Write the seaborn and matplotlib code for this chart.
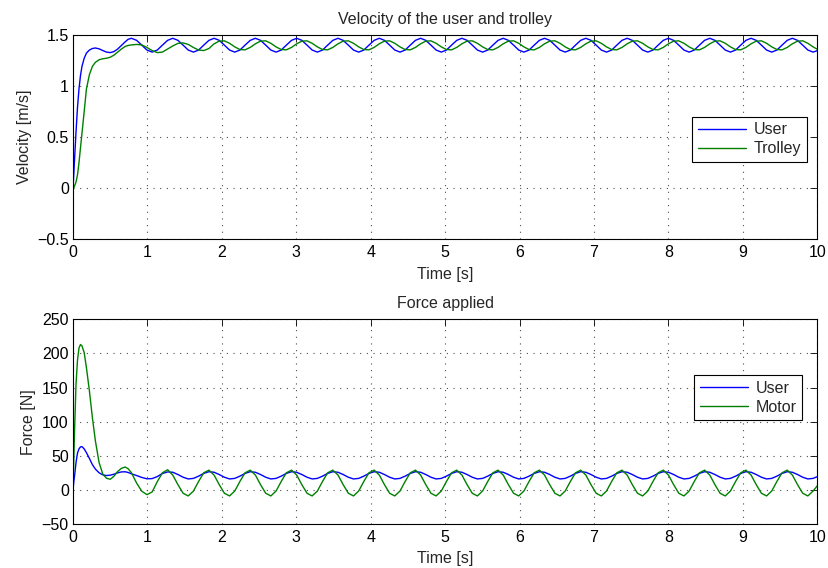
import matplotlib
matplotlib.use("Agg")
import matplotlib.pyplot as plt
import seaborn as sns

# sample times [s]: start-up part, then 8 samples per oscillation (period ~0.555 s)
time_start = [0, 0.01, 0.02, 0.04, 0.06, 0.08, 0.10, 0.12, 0.15, 0.18, 0.22,
              0.26, 0.30, 0.35, 0.40, 0.45, 0.50, 0.55, 0.60, 0.65, 0.70, 0.74]
time_osc = [
    0.785, 0.854, 0.924, 0.993, 1.063, 1.132, 1.201, 1.271,
    1.340, 1.409, 1.479, 1.548, 1.618, 1.687, 1.756, 1.826,
    1.895, 1.964, 2.034, 2.103, 2.173, 2.242, 2.311, 2.381,
    2.450, 2.519, 2.589, 2.658, 2.728, 2.797, 2.866, 2.936,
    3.005, 3.074, 3.144, 3.213, 3.283, 3.352, 3.421, 3.491,
    3.560, 3.629, 3.699, 3.768, 3.838, 3.907, 3.976, 4.046,
    4.115, 4.184, 4.254, 4.323, 4.393, 4.462, 4.531, 4.601,
    4.670, 4.739, 4.809, 4.878, 4.948, 5.017, 5.086, 5.156,
    5.225, 5.294, 5.364, 5.433, 5.503, 5.572, 5.641, 5.711,
    5.780, 5.849, 5.919, 5.988, 6.058, 6.127, 6.196, 6.266,
    6.335, 6.404, 6.474, 6.543, 6.613, 6.682, 6.751, 6.821,
    6.890, 6.959, 7.029, 7.098, 7.168, 7.237, 7.306, 7.376,
    7.445, 7.514, 7.584, 7.653, 7.723, 7.792, 7.861, 7.931,
    8.000, 8.069, 8.139, 8.208, 8.278, 8.347, 8.416, 8.486,
    8.555, 8.624, 8.694, 8.763, 8.833, 8.902, 8.971, 9.041,
    9.110, 9.179, 9.249, 9.318, 9.388, 9.457, 9.526, 9.596,
    9.665, 9.734, 9.804, 9.873, 9.943, 10.0,
]

# velocity [m/s]
vel_user_start = [0, 0.14, 0.28, 0.55, 0.79, 0.97, 1.10, 1.19, 1.27, 1.32, 1.35,
                  1.365, 1.370, 1.362, 1.345, 1.330, 1.325, 1.335, 1.36, 1.395, 1.43, 1.455]
vel_user_osc = [
    1.465, 1.445, 1.398, 1.350, 1.330, 1.350, 1.398, 1.445,
    1.465, 1.445, 1.398, 1.350, 1.330, 1.350, 1.398, 1.445,
    1.465, 1.445, 1.398, 1.350, 1.330, 1.350, 1.398, 1.445,
    1.465, 1.445, 1.398, 1.350, 1.330, 1.350, 1.398, 1.445,
    1.465, 1.445, 1.398, 1.350, 1.330, 1.350, 1.398, 1.445,
    1.465, 1.445, 1.398, 1.350, 1.330, 1.350, 1.398, 1.445,
    1.465, 1.445, 1.398, 1.350, 1.330, 1.350, 1.398, 1.445,
    1.465, 1.445, 1.398, 1.350, 1.330, 1.350, 1.398, 1.445,
    1.465, 1.445, 1.398, 1.350, 1.330, 1.350, 1.398, 1.445,
    1.465, 1.445, 1.398, 1.350, 1.330, 1.350, 1.398, 1.445,
    1.465, 1.445, 1.398, 1.350, 1.330, 1.350, 1.398, 1.445,
    1.465, 1.445, 1.398, 1.350, 1.330, 1.350, 1.398, 1.445,
    1.465, 1.445, 1.398, 1.350, 1.330, 1.350, 1.398, 1.445,
    1.465, 1.445, 1.398, 1.350, 1.330, 1.350, 1.398, 1.445,
    1.465, 1.445, 1.398, 1.350, 1.330, 1.350, 1.398, 1.445,
    1.465, 1.445, 1.398, 1.350, 1.330, 1.350, 1.398, 1.445,
    1.465, 1.445, 1.398, 1.350, 1.330, 1.344,
]
vel_trolley_start = [0, 0.005, 0.02, 0.06, 0.13, 0.25, 0.39, 0.53, 0.75, 0.97, 1.11,
                     1.19, 1.23, 1.255, 1.265, 1.27, 1.28, 1.30, 1.33, 1.36, 1.385, 1.395]
vel_trolley_osc = [
    1.400, 1.405, 1.400, 1.375, 1.345, 1.325, 1.330, 1.360,
    1.390, 1.415, 1.420, 1.405, 1.375, 1.350, 1.345, 1.365,
    1.411, 1.437, 1.440, 1.416, 1.381, 1.355, 1.352, 1.376,
    1.411, 1.437, 1.440, 1.416, 1.381, 1.355, 1.352, 1.376,
    1.411, 1.437, 1.440, 1.416, 1.381, 1.355, 1.352, 1.376,
    1.411, 1.437, 1.440, 1.416, 1.381, 1.355, 1.352, 1.376,
    1.411, 1.437, 1.440, 1.416, 1.381, 1.355, 1.352, 1.376,
    1.411, 1.437, 1.440, 1.416, 1.381, 1.355, 1.352, 1.376,
    1.411, 1.437, 1.440, 1.416, 1.381, 1.355, 1.352, 1.376,
    1.411, 1.437, 1.440, 1.416, 1.381, 1.355, 1.352, 1.376,
    1.411, 1.437, 1.440, 1.416, 1.381, 1.355, 1.352, 1.376,
    1.411, 1.437, 1.440, 1.416, 1.381, 1.355, 1.352, 1.376,
    1.411, 1.437, 1.440, 1.416, 1.381, 1.355, 1.352, 1.376,
    1.411, 1.437, 1.440, 1.416, 1.381, 1.355, 1.352, 1.376,
    1.411, 1.437, 1.440, 1.416, 1.381, 1.355, 1.352, 1.376,
    1.411, 1.437, 1.440, 1.416, 1.381, 1.355, 1.352, 1.376,
    1.411, 1.437, 1.440, 1.416, 1.381, 1.358,
]

# force [N]
force_user_start = [0, 12, 20, 40, 54, 60, 63, 63.4, 60, 54.5, 46,
                    37, 30.5, 25, 22, 21, 21.5, 23, 25, 26.3, 26.5, 25.5]
force_user_osc = [
    23.5, 21.0, 18.2, 16.2, 16.5, 19.5, 24.0, 26.3,
    25.8, 22.5, 18.5, 16.0, 16.8, 20.1, 24.1, 26.6,
    25.8, 22.5, 18.5, 16.0, 16.8, 20.1, 24.1, 26.6,
    25.8, 22.5, 18.5, 16.0, 16.8, 20.1, 24.1, 26.6,
    25.8, 22.5, 18.5, 16.0, 16.8, 20.1, 24.1, 26.6,
    25.8, 22.5, 18.5, 16.0, 16.8, 20.1, 24.1, 26.6,
    25.8, 22.5, 18.5, 16.0, 16.8, 20.1, 24.1, 26.6,
    25.8, 22.5, 18.5, 16.0, 16.8, 20.1, 24.1, 26.6,
    25.8, 22.5, 18.5, 16.0, 16.8, 20.1, 24.1, 26.6,
    25.8, 22.5, 18.5, 16.0, 16.8, 20.1, 24.1, 26.6,
    25.8, 22.5, 18.5, 16.0, 16.8, 20.1, 24.1, 26.6,
    25.8, 22.5, 18.5, 16.0, 16.8, 20.1, 24.1, 26.6,
    25.8, 22.5, 18.5, 16.0, 16.8, 20.1, 24.1, 26.6,
    25.8, 22.5, 18.5, 16.0, 16.8, 20.1, 24.1, 26.6,
    25.8, 22.5, 18.5, 16.0, 16.8, 20.1, 24.1, 26.6,
    25.8, 22.5, 18.5, 16.0, 16.8, 20.1, 24.1, 26.6,
    25.8, 22.5, 18.5, 16.0, 16.8, 19.4,
]
force_motor_start = [0, 45, 85, 155, 190, 208, 213, 211, 201, 179, 145,
                     106, 72, 40, 23, 17, 15.5, 20, 27, 31.5, 33.5, 31]
force_motor_osc = [
    25.0, 10.0, -2.0, -7.0, -3.0, 12.0, 25.0, 29.5,
    21.7, 7.7, -5.0, -8.9, -1.7, 12.3, 25.0, 28.9,
    21.7, 7.7, -5.0, -8.9, -1.7, 12.3, 25.0, 28.9,
    21.7, 7.7, -5.0, -8.9, -1.7, 12.3, 25.0, 28.9,
    21.7, 7.7, -5.0, -8.9, -1.7, 12.3, 25.0, 28.9,
    21.7, 7.7, -5.0, -8.9, -1.7, 12.3, 25.0, 28.9,
    21.7, 7.7, -5.0, -8.9, -1.7, 12.3, 25.0, 28.9,
    21.7, 7.7, -5.0, -8.9, -1.7, 12.3, 25.0, 28.9,
    21.7, 7.7, -5.0, -8.9, -1.7, 12.3, 25.0, 28.9,
    21.7, 7.7, -5.0, -8.9, -1.7, 12.3, 25.0, 28.9,
    21.7, 7.7, -5.0, -8.9, -1.7, 12.3, 25.0, 28.9,
    21.7, 7.7, -5.0, -8.9, -1.7, 12.3, 25.0, 28.9,
    21.7, 7.7, -5.0, -8.9, -1.7, 12.3, 25.0, 28.9,
    21.7, 7.7, -5.0, -8.9, -1.7, 12.3, 25.0, 28.9,
    21.7, 7.7, -5.0, -8.9, -1.7, 12.3, 25.0, 28.9,
    21.7, 7.7, -5.0, -8.9, -1.7, 12.3, 25.0, 28.9,
    21.7, 7.7, -5.0, -8.9, -1.7, 6.0,
]

time = time_start + time_osc
vel_user = vel_user_start + vel_user_osc
vel_trolley = vel_trolley_start + vel_trolley_osc
force_user = force_user_start + force_user_osc
force_motor = force_motor_start + force_motor_osc

x_ticks = [0, 1, 2, 3, 4, 5, 6, 7, 8, 9, 10]
vel_ticks = [-0.5, 0, 0.5, 1, 1.5]
vel_tick_labels = ["\u22120.5", "0", "0.5", "1", "1.5"]
force_ticks = [-50, 0, 50, 100, 150, 200, 250]

sns.set_style("white")
plt.rcParams["font.family"] = ["Liberation Sans", "DejaVu Sans"]
fs = 11.5

fig = plt.figure(figsize=(8.29, 5.68), dpi=100)
ax1 = fig.add_axes([0.0881, 0.5787, 0.8978, 0.3602])
ax2 = fig.add_axes([0.0881, 0.0775, 0.8978, 0.3604])

blue = (0, 0, 1)
green = (0, 0.5, 0)

sns.lineplot(x=time, y=vel_user, ax=ax1, color=blue, lw=1.0, label="User", estimator=None)
sns.lineplot(x=time, y=vel_trolley, ax=ax1, color=green, lw=1.0, label="Trolley", estimator=None)
sns.lineplot(x=time, y=force_user, ax=ax2, color=blue, lw=1.0, label="User", estimator=None)
sns.lineplot(x=time, y=force_motor, ax=ax2, color=green, lw=1.0, label="Motor", estimator=None)

ax1.set_ylim(-0.5, 1.5)
ax1.set_yticks(vel_ticks)
ax1.set_yticklabels(vel_tick_labels)
ax2.set_ylim(-50, 250)
ax2.set_yticks(force_ticks)

ax1.set_title("Velocity of the user and trolley", fontsize=fs, pad=8)
ax2.set_title("Force applied", fontsize=fs, pad=8)
ax1.set_ylabel("Velocity [m/s]", fontsize=fs, labelpad=4)
ax2.set_ylabel("Force [N]", fontsize=fs, labelpad=4)

for ax in (ax1, ax2):
    ax.set_xlim(0, 10)
    ax.set_xticks(x_ticks)
    ax.set_xlabel("Time [s]", fontsize=fs, labelpad=5)
    ax.grid(True, linestyle=(0, (1, 5)), lw=0.8, color="0.3")
    ax.tick_params(direction="in", top=True, right=True, length=5, width=0.6,
                   labelsize=fs, colors="black")
    ax.tick_params(axis="x", pad=4)
    ax.tick_params(axis="y", pad=3)
    for sp in ax.spines.values():
        sp.set_visible(True)
        sp.set_color("black")
        sp.set_linewidth(0.8)

leg1 = ax1.legend(loc="upper right", bbox_to_anchor=(0.9857, 0.60), fontsize=fs,
                  handlelength=3.0, fancybox=False, framealpha=1, edgecolor="black",
                  borderpad=0.35, labelspacing=0.25, handletextpad=0.5, borderaxespad=0)
leg2 = ax2.legend(loc="upper right", bbox_to_anchor=(0.980, 0.728), fontsize=fs,
                  handlelength=3.0, fancybox=False, framealpha=1, edgecolor="black",
                  borderpad=0.35, labelspacing=0.25, handletextpad=0.5, borderaxespad=0)
for leg in (leg1, leg2):
    leg.get_frame().set_linewidth(0.8)

fig.savefig("out.png", dpi=100)
